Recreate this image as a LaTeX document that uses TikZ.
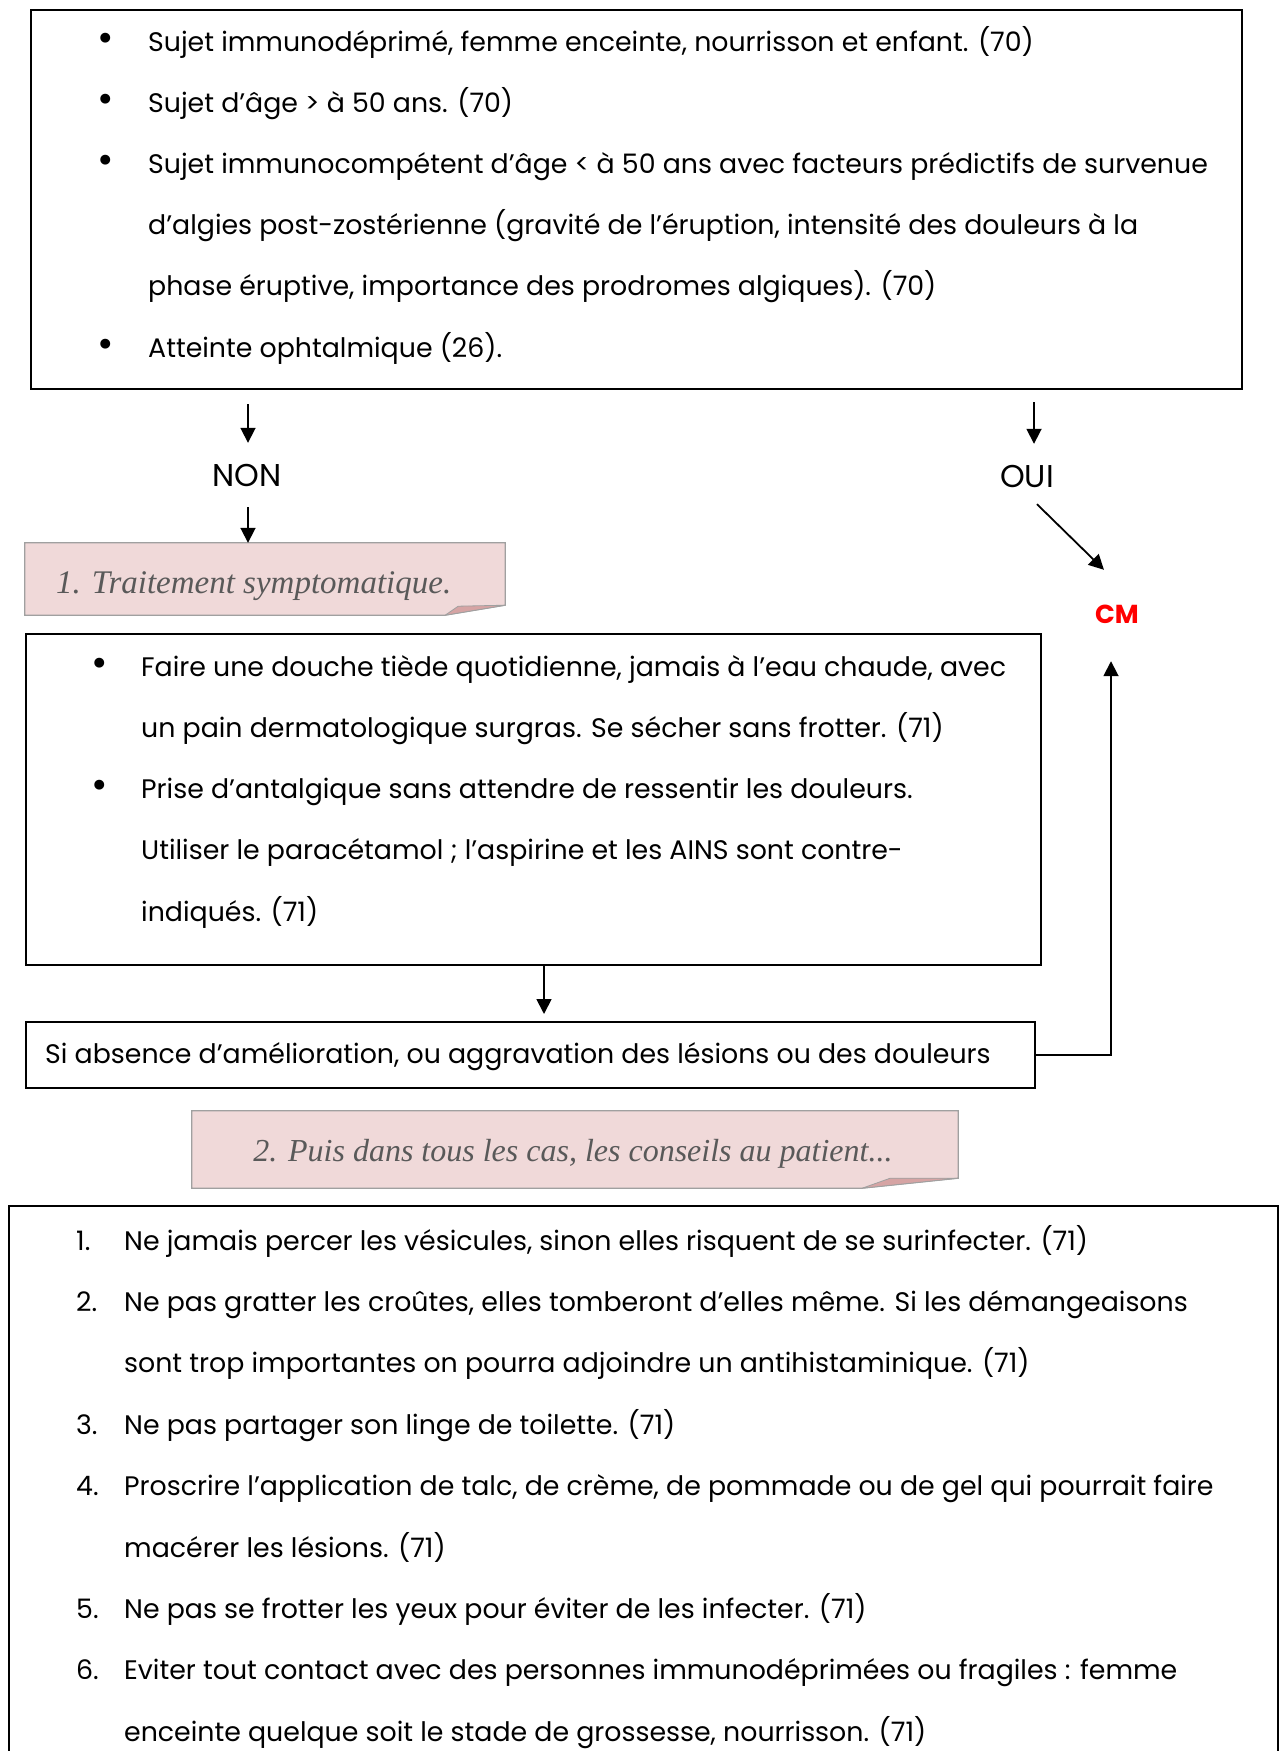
\documentclass[tikz,border=0pt]{standalone}
\usepackage{fontspec}
\setmainfont{Poppins}
\newfontfamily\notefont{Liberation Serif}
\usetikzlibrary{arrows.meta}

\definecolor{notepink}{RGB}{240,217,217}
\definecolor{foldpink}{RGB}{214,164,164}
\definecolor{notegray}{RGB}{89,89,89}
\definecolor{notedraw}{RGB}{160,160,160}

\tikzset{
    frame/.style={draw=black, line width=1.8pt, inner sep=0pt, anchor=north west},
    note/.style={draw=notedraw, fill=notepink, line width=1.2pt},
    fold/.style={draw=notedraw, fill=foldpink, line width=0.8pt, line join=round},
    txt/.style={anchor=base west, inner sep=0pt, font=\fontsize{26.8}{32}\selectfont},
    dot/.style={anchor=base, inner sep=0pt, font=\fontsize{40}{40}\selectfont},
    notetxt/.style={anchor=base west, inner sep=0pt, text=notegray,
        font=\notefont\itshape\fontsize{33}{38}\selectfont},
    lbl/.style={inner sep=0pt, minimum height=64pt, font=\fontsize{31.5}{34}\selectfont},
    arr/.style={line width=1.8pt, -{Triangle[length=15pt,width=15pt]}},
}

\begin{document}
\begin{tikzpicture}[x=1pt, y=-1pt]
        \useasboundingbox (0,0) rectangle (1286,1751);
        % criteres
        \node[frame, minimum width=1211pt, minimum height=379pt] (crit) at (30,9) {};
        \foreach \txt [count=\i] in {
            {Sujet immunodéprimé, femme enceinte, nourrisson et enfant. (70)},
            {Sujet d’âge > à 50 ans. (70)},
            {Sujet immunocompétent d’âge < à 50 ans avec facteurs prédictifs de survenue},
            {d’algies post-zostérienne (gravité de l’éruption, intensité des douleurs à la},
            {phase éruptive, importance des prodromes algiques). (70)},
            {Atteinte ophtalmique (26).}} {
            \pgfmathsetmacro{\ybase}{51 + 61.2*(\i-1)}
            \node[txt] (crit-\i) at (148,\ybase) {\txt};
        }
        \foreach \i in {1,2,3,6} {
            \node[dot] (critb-\i) at (106,0 |- crit-\i.base) {•};
        }
        % non / oui
        \coordinate (nonin) at (248,404);
        \coordinate (ouiin) at (1034,402);
        \node[lbl] (non) at (247,475) {NON};
        \node[lbl] (oui) at (1027,476) {OUI};
        \node[inner sep=0pt, minimum width=30pt, minimum height=94pt, text=red,
            font=\bfseries\fontsize{26}{30}\selectfont] (cm) at (1117,614) {CM};
        \draw[arr] (nonin) -- (non.north -| nonin);
        \draw[arr] (ouiin) -- (oui.north -| ouiin);
        \draw[arr] ([xshift=10pt,yshift=4pt]oui.south) -- ([xshift=-13pt,yshift=-3pt]cm.north);
        % traitement symptomatique
        \node[inner sep=0pt, minimum width=480pt, minimum height=72pt] (symp) at (265,579) {};
        \draw[note] (symp.north west) -- (symp.north east) -- ([yshift=10pt]symp.south east)
            -- ([xshift=-60pt]symp.south east) -- (symp.south west) -- cycle;
        \draw[fold] ([yshift=10pt]symp.south east) -- ([xshift=-47pt,yshift=9pt]symp.south east)
            -- ([xshift=-60pt]symp.south east) -- cycle;
        \node[notetxt] (symptxt) at (56,593) {1. Traitement symptomatique.};
        \draw[arr] (non.south -| nonin) -- (symp.north -| nonin);
        % conseils
        \node[frame, minimum width=1015pt, minimum height=331pt] (care) at (25,633) {};
        \foreach \txt [count=\i] in {
            {Faire une douche tiède quotidienne, jamais à l’eau chaude, avec},
            {un pain dermatologique surgras. Se sécher sans frotter. (71)},
            {Prise d’antalgique sans attendre de ressentir les douleurs.},
            {Utiliser le paracétamol ; l’aspirine et les AINS sont contre-},
            {indiqués. (71)}} {
            \pgfmathsetmacro{\ybase}{676 + 61.3*(\i-1)}
            \node[txt] (care-\i) at (141,\ybase) {\txt};
        }
        \foreach \i in {1,3} {
            \node[dot] (careb-\i) at (100,0 |- care-\i.base) {•};
        }
        % si absence
        \node[frame, minimum width=1009pt, minimum height=66pt] (worse) at (25,1021) {};
        \node[txt] (worsetxt) at (45,1063) {Si absence d’amélioration, ou aggravation des lésions ou des douleurs};
        \coordinate (mid) at (544,0);
        \draw[arr] (care.south -| mid) -- ([yshift=7pt]worse.north -| mid);
        \draw[arr] (worse.east) -| ([xshift=-6pt]cm.south);
        % puis dans tous les cas
        \node[inner sep=0pt, minimum width=766pt, minimum height=77pt] (tips) at (575,1149.5) {};
        \draw[note] (tips.north west) -- (tips.north east) -- ([yshift=10pt]tips.south east)
            -- ([xshift=-96pt]tips.south east) -- (tips.south west) -- cycle;
        \draw[fold] ([yshift=10pt]tips.south east) -- ([xshift=-68pt,yshift=10pt]tips.south east)
            -- ([xshift=-96pt]tips.south east) -- cycle;
        \node[notetxt, anchor=base, font=\notefont\itshape\fontsize{32}{38}\selectfont] (tipstxt) at (573,1161) {2. Puis dans tous les cas, les conseils au patient...};
        % liste
        \draw[line width=1.8pt] (9,1751) -- (9,1206) -- (1278,1206) -- (1278,1751);
        \foreach \txt [count=\i] in {
            {Ne jamais percer les vésicules, sinon elles risquent de se surinfecter. (71)},
            {Ne pas gratter les croûtes, elles tomberont d’elles même. Si les démangeaisons},
            {sont trop importantes on pourra adjoindre un antihistaminique. (71)},
            {Ne pas partager son linge de toilette. (71)},
            {Proscrire l’application de talc, de crème, de pommade ou de gel qui pourrait faire},
            {macérer les lésions. (71)},
            {Ne pas se frotter les yeux pour éviter de les infecter. (71)},
            {Eviter tout contact avec des personnes immunodéprimées ou fragiles : femme},
            {enceinte quelque soit le stade de grossesse, nourrisson. (71)}} {
            \pgfmathsetmacro{\ybase}{1250 + 61.4*(\i-1)}
            \node[txt] (tip-\i) at (124,\ybase) {\txt};
        }
        \foreach \i/\m in {1/1.,2/2.,4/3.,5/4.,7/5.,8/6.} {
            \node[txt] (tipn-\i) at (76,0 |- tip-\i.base) {\m};
        }
    \end{tikzpicture}
\end{document}
